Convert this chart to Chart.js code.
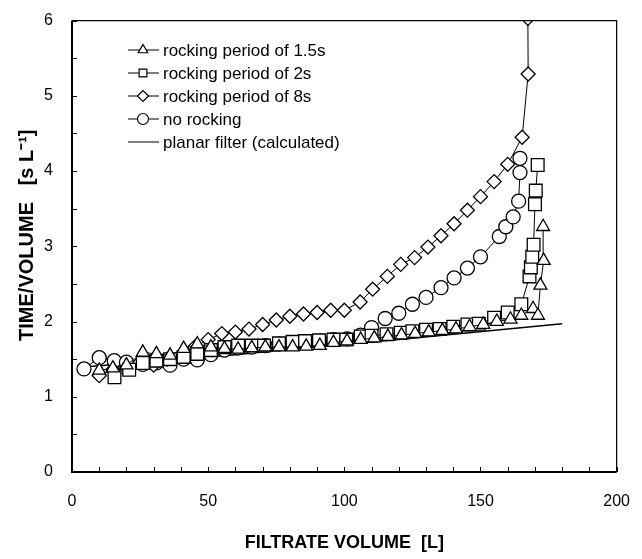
<!DOCTYPE html>
<html>
<head>
<meta charset="utf-8">
<script src="https://cdn.jsdelivr.net/npm/chart.js@4.4.0/dist/chart.umd.min.js"></script>
<style>
  html, body { margin: 0; padding: 0; background: #fff; }
</style>
</head>
<body>
<canvas id="chart" width="642" height="559"></canvas>
<script>
// data
const volTri = [10, 15, 20, 26, 31, 36, 41, 46, 51, 56, 61, 66, 71, 76, 81, 86, 91, 96, 101, 106, 111, 116, 121, 126, 131, 136, 141, 146, 151, 156, 161, 165, 169.3, 171.1, 172, 173.2, 173];
const timeTri = [1.35, 1.38, 1.42, 1.59, 1.57, 1.55, 1.64, 1.70, 1.66, 1.64, 1.63, 1.65, 1.66, 1.66, 1.66, 1.67, 1.68, 1.72, 1.74, 1.76, 1.78, 1.80, 1.82, 1.84, 1.86, 1.88, 1.90, 1.93, 1.96, 2.00, 2.03, 2.08, 2.17, 2.08, 2.48, 2.81, 3.26];

const volSq = [15.6, 21, 26, 31, 36, 41, 46, 51, 56, 61, 66, 70.5, 76, 81, 85.6, 90.7, 96, 100.7, 106, 110, 115.5, 120.7, 125, 130, 135, 140, 145.2, 149.4, 155, 160, 165, 168, 168.5, 169, 169.5, 170, 170.3, 171];
const timeSq = [1.26, 1.36, 1.45, 1.48, 1.50, 1.53, 1.57, 1.62, 1.66, 1.68, 1.68, 1.68, 1.71, 1.73, 1.74, 1.75, 1.76, 1.76, 1.80, 1.81, 1.83, 1.85, 1.87, 1.89, 1.90, 1.93, 1.96, 1.97, 2.05, 2.12, 2.23, 2.60, 2.72, 2.86, 3.02, 3.56, 3.74, 4.08];

const volDia = [10, 15, 20, 25, 30, 35, 40, 45, 50, 55, 60, 65, 70, 75, 80, 85, 90, 95, 100, 105.8, 110.4, 115.8, 120.7, 125.8, 130.7, 135.5, 140.3, 145.2, 150, 155, 160, 165.3, 167.5, 167.4];
const timeDia = [1.28, 1.36, 1.38, 1.46, 1.42, 1.50, 1.55, 1.66, 1.76, 1.84, 1.86, 1.90, 1.96, 2.02, 2.07, 2.10, 2.12, 2.15, 2.15, 2.26, 2.43, 2.60, 2.76, 2.85, 2.99, 3.14, 3.30, 3.48, 3.66, 3.86, 4.09, 4.45, 5.29, 6.03];

const volCirc = [4.4, 10, 15.5, 20, 26, 31, 36, 41, 46, 51, 56, 61, 66, 71, 76, 81, 86, 91, 96, 101, 106, 110, 115, 120, 125, 130, 135.5, 140.3, 145.2, 150, 156.9, 159.3, 162, 164, 164.5, 164.5];
const timeCirc = [1.37, 1.52, 1.48, 1.46, 1.43, 1.45, 1.42, 1.50, 1.49, 1.56, 1.62, 1.65, 1.66, 1.68, 1.70, 1.72, 1.73, 1.74, 1.76, 1.77, 1.82, 1.92, 2.04, 2.11, 2.23, 2.32, 2.45, 2.58, 2.71, 2.86, 3.13, 3.26, 3.39, 3.60, 3.98, 4.17];

const volPlanar = [5, 20, 40, 60, 80, 100, 120, 140, 160, 180];
const timePlanar = [1.40, 1.44, 1.50, 1.56, 1.63, 1.70, 1.76, 1.83, 1.90, 1.97];

const seriesNames = ['rocking period of 1.5s', 'rocking period of 2s', 'rocking period of 8s', 'no rocking', 'planar filter (calculated)'];
const xTicks = [0, 50, 100, 150, 200];
const yTicks = [0, 1, 2, 3, 4, 5, 6];

function pts(xs, ys) {
    return xs.map((x, i) => ({ x: x, y: ys[i] }));
}

function series(label, xs, ys, style, radius) {
    return {
        label: label,
        data: pts(xs, ys),
        borderColor: '#000',
        backgroundColor: '#fff',
        borderWidth: 1,
        pointStyle: style,
        pointRadius: radius,
        pointBorderWidth: 1.3,
        pointBorderColor: '#000',
        pointBackgroundColor: '#fff',
        showLine: true,
        tension: 0
    };
}

const datasets = [
    series(seriesNames[0], volTri, timeTri, 'triangle', 7.5),
    series(seriesNames[1], volSq, timeSq, 'rect', 9),
    series(seriesNames[2], volDia, timeDia, 'rectRot', 7),
    series(seriesNames[3], volCirc, timeCirc, 'circle', 7),
    series(seriesNames[4], volPlanar, timePlanar, false, 0)
];
datasets[4].borderWidth = 1.5;

// box and inner ticks
const frame = {
    id: 'frame',
    afterDraw(chart) {
        const { ctx, chartArea: a, scales } = chart;
        ctx.save();
        ctx.strokeStyle = '#000';
        ctx.lineWidth = 1;
        ctx.beginPath();
        for (let v = 0; v <= 200; v += 10) {
            const px = Math.round(scales.x.getPixelForValue(v)) + 0.5;
            ctx.moveTo(px, a.bottom);
            ctx.lineTo(px, a.bottom - 5);
        }
        for (let v = 0; v <= 6; v += 0.5) {
            const py = Math.round(scales.y.getPixelForValue(v)) + 0.5;
            ctx.moveTo(a.left, py);
            ctx.lineTo(a.left + 5, py);
        }
        ctx.stroke();
        // top and right thinner than left and bottom
        ctx.lineWidth = 1.2;
        ctx.beginPath();
        ctx.moveTo(a.left, a.top);
        ctx.lineTo(a.right, a.top);
        ctx.lineTo(a.right, a.bottom);
        ctx.stroke();
        ctx.lineWidth = 2;
        ctx.beginPath();
        ctx.moveTo(a.left, a.top);
        ctx.lineTo(a.left, a.bottom);
        ctx.lineTo(a.right, a.bottom);
        ctx.stroke();
        ctx.restore();
    }
};

// legend in the top left corner, line with marker like the original
const legendBox = {
    id: 'legendBox',
    afterDraw(chart) {
        const ctx = chart.ctx;
        ctx.save();
        ctx.font = '17px "Liberation Sans", Arial, sans-serif';
        ctx.textBaseline = 'middle';
        chart.data.datasets.forEach((ds, i) => {
            const y = 50 + i * 23;
            ctx.strokeStyle = '#000';
            ctx.lineWidth = 1;
            ctx.beginPath();
            ctx.moveTo(128, y);
            ctx.lineTo(159, y);
            ctx.stroke();
            if (ds.pointStyle) {
                ctx.fillStyle = '#fff';
                ctx.lineWidth = 1.2;
                Chart.helpers.drawPoint(ctx, { pointStyle: ds.pointStyle, radius: 5.5, borderWidth: 1.2 }, 143, y);
            }
            ctx.fillStyle = '#000';
            ctx.fillText(ds.label, 163, y + 1);
        });
        ctx.restore();
    }
};

const tickFont = { family: '"Liberation Sans", Arial, sans-serif', size: 16 };

new Chart(document.getElementById('chart'), {
    type: 'scatter',
    data: { datasets: datasets },
    options: {
        responsive: false,
        animation: false,
        layout: { padding: { top: 19, right: 18, left: 0, bottom: 0 } },
        plugins: { legend: { display: false }, tooltip: { enabled: false } },
        scales: {
            x: {
                type: 'linear',
                min: 0, max: 200,
                afterFit: s => { s.height = 87; },
                afterBuildTicks: s => { s.ticks = xTicks.map(v => ({ value: v })); },
                grid: { display: false },
                border: { display: false },
                ticks: { font: tickFont, color: '#000', padding: 12, maxRotation: 0 },
                title: {
                    display: true, text: 'FILTRATE VOLUME  [L]', color: '#000',
                    font: { family: '"Liberation Sans", Arial, sans-serif', size: 18, weight: 'bold' },
                    padding: { top: 0, bottom: 5 }
                }
            },
            y: {
                type: 'linear',
                min: 0, max: 6,
                afterFit: s => { s.width = 72; },
                afterBuildTicks: s => { s.ticks = yTicks.map(v => ({ value: v })); },
                grid: { display: false },
                border: { display: false },
                ticks: { font: tickFont, color: '#000', padding: 11 },
                title: {
                    display: true, text: '\u00A0\u00A0\u00A0\u00A0TIME/VOLUME\u00A0\u00A0\u00A0[s L\u207B\u00B9]', color: '#000',
                    font: { family: '"Liberation Sans", Arial, sans-serif', size: 20, weight: 'bold' },
                    padding: { top: 15, bottom: 0 }
                }
            }
        }
    },
    plugins: [frame, legendBox]
});
</script>
</body>
</html>
